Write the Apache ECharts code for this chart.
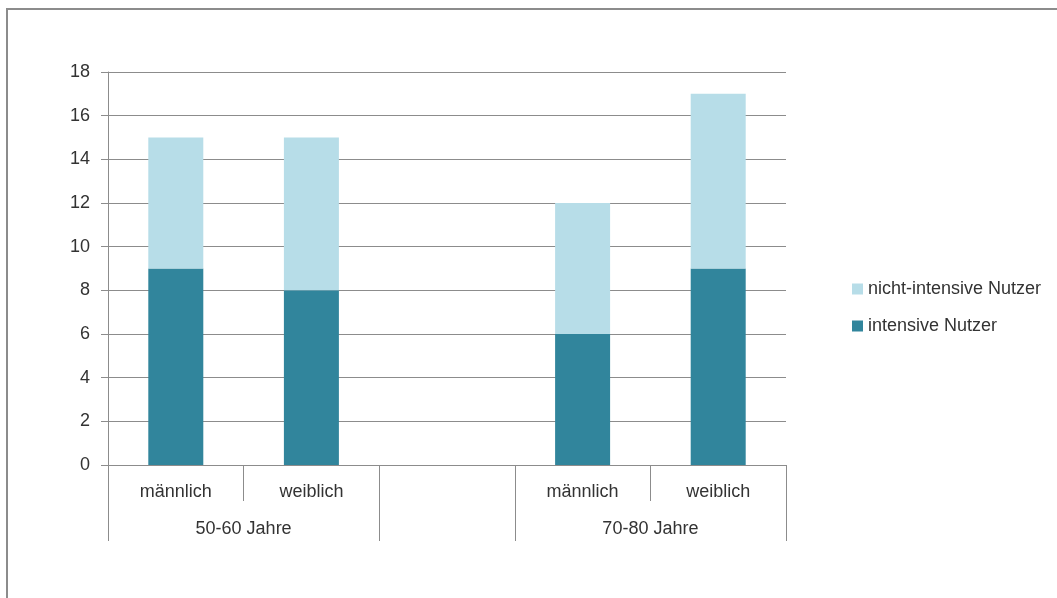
<!DOCTYPE html>
<html><head><meta charset="utf-8">
<script src="https://cdn.jsdelivr.net/npm/echarts@6/dist/echarts.min.js"></script>
<style>html,body{margin:0;padding:0;background:#fff}#c{width:1057px;height:598px}</style>
</head><body><div id="c"></div>
<script>
const categories = ['männlich', 'weiblich', '', 'männlich', 'weiblich'];
const groupLabels = ['', '50-60 Jahre', '', '', '70-80 Jahre', ''];
const groupBoundaries = [0, 2, 3, 5];
const intensive = [9, 8, '-', 6, 9];
const nichtIntensive = [6, 7, '-', 6, 8];
const yTicks = { min: 0, max: 18, interval: 2 };

const FONT = 'Liberation Sans';
const TXT = '#333333';
const LINE = '#8c8c8c';

const chart = echarts.init(document.getElementById('c'));
chart.setOption({
  animation: false,
  textStyle: { fontFamily: FONT },
  graphic: [{ type: 'rect', shape: { x: 7, y: 9, width: 1200, height: 800 }, style: { fill: 'none', stroke: LINE, lineWidth: 2 }, silent: true }],
  grid: { left: 108, right: 271, top: 72, bottom: 133 },
  legend: {
    orient: 'vertical', left: 852, top: 280, padding: 0,
    itemWidth: 11, itemHeight: 11, itemGap: 19,
    data: ['nicht-intensive Nutzer', 'intensive Nutzer'],
    textStyle: { fontFamily: FONT, fontSize: 18, color: TXT, padding: [0, 0, 0, 0] },
    icon: 'rect'
  },
  xAxis: [{
    type: 'category', data: categories, boundaryGap: true, position: 'bottom',
    axisLine: { show: true, lineStyle: { color: LINE, width: 1 } },
    axisTick: { show: true, length: 36, lineStyle: { color: LINE } },
    axisLabel: { interval: 0, margin: 18, fontFamily: FONT, fontSize: 18, color: TXT }
  }, {
    type: 'category', data: groupLabels, boundaryGap: false, position: 'bottom',
    axisLine: { show: false },
    axisTick: { show: true, length: 76, interval: (i) => groupBoundaries.includes(i), lineStyle: { color: LINE } },
    axisLabel: { interval: 0, margin: 55, fontFamily: FONT, fontSize: 18, color: TXT }
  }],
  yAxis: {
    type: 'value', min: yTicks.min, max: yTicks.max, interval: yTicks.interval,
    axisLine: { show: true, lineStyle: { color: LINE } },
    axisTick: { show: true, length: 7, lineStyle: { color: LINE } },
    splitLine: { lineStyle: { color: LINE } },
    axisLabel: { margin: 18, fontFamily: FONT, fontSize: 18, color: TXT }
  },
  series: [{
    name: 'intensive Nutzer', type: 'bar', stack: 's', data: intensive, barWidth: 55,
    itemStyle: { color: '#31859c' }
  }, {
    name: 'nicht-intensive Nutzer', type: 'bar', stack: 's', data: nichtIntensive, barWidth: 55,
    itemStyle: { color: '#b7dde8' }
  }]
});
</script></body></html>
